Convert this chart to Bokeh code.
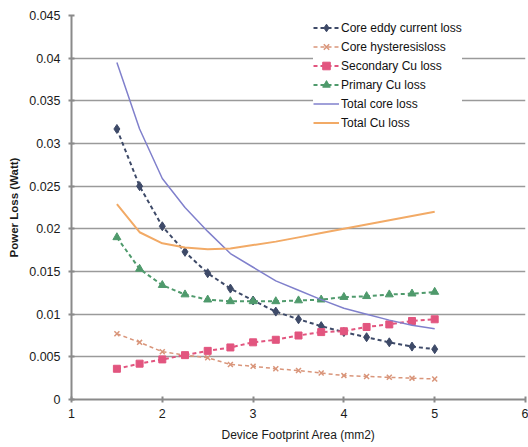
from bokeh.plotting import figure
from bokeh.models import FixedTicker, Legend, LegendItem
from bokeh.embed import file_html
from bokeh.resources import INLINE

area = [1.5, 1.75, 2.0, 2.25, 2.5, 2.75, 3.0, 3.25, 3.5, 3.75, 4.0, 4.25, 4.5, 4.75, 5.0]
core_eddy = [0.0317, 0.0250, 0.0203, 0.0173, 0.0148, 0.0130, 0.0116, 0.0103, 0.0094, 0.0086,
             0.0079, 0.0073, 0.0067, 0.0062, 0.0059]
core_hyst = [0.0077, 0.0067, 0.0056, 0.0052, 0.0049, 0.0041, 0.0039, 0.0036, 0.0034, 0.0031,
             0.0028, 0.0027, 0.0026, 0.0025, 0.0024]
secondary_cu = [0.0036, 0.0042, 0.0047, 0.0052, 0.0057, 0.0061, 0.0067, 0.0070, 0.0075, 0.0079,
                0.0080, 0.0085, 0.0088, 0.0092, 0.0094]
primary_cu = [0.0190, 0.0153, 0.0134, 0.0123, 0.0117, 0.0115, 0.0115, 0.0115, 0.0116, 0.0117,
              0.0120, 0.0121, 0.0123, 0.0124, 0.0126]
total_core = [0.0395, 0.0317, 0.0259, 0.0225, 0.0197, 0.0171, 0.0155, 0.0139, 0.0128, 0.0117,
              0.0107, 0.0100, 0.0093, 0.0087, 0.0083]
total_cu = [0.0229, 0.0196, 0.0183, 0.0178, 0.0176, 0.0177, 0.0181, 0.0185, 0.0190, 0.0195,
            0.0200, 0.0205, 0.0210, 0.0215, 0.0220]

x_ticks = [1, 2, 3, 4, 5, 6]
y_ticks = [0, 0.005, 0.01, 0.015, 0.02, 0.025, 0.03, 0.035, 0.04, 0.045]
y_tick_labels = ["0", "0.005", "0.01", "0.015", "0.02", "0.025", "0.03", "0.035", "0.04", "0.045"]

FONT = "Liberation Sans"

p = figure(width=528, height=447, output_backend="svg", toolbar_location=None,
           x_range=(1, 6), y_range=(0, 0.045),
           min_border_left=71, min_border_right=3, min_border_top=15, min_border_bottom=48)
p.outline_line_color = None
p.background_fill_color = "white"
p.border_fill_color = "white"

p.xgrid.grid_line_color = None
p.ygrid.grid_line_color = "#9a9a9a"
p.ygrid.grid_line_width = 1.5
p.ygrid.ticker = FixedTicker(ticks=y_ticks)

p.xaxis.ticker = FixedTicker(ticks=x_ticks)
p.yaxis.ticker = FixedTicker(ticks=y_ticks)
p.yaxis.major_label_overrides = {t: l for t, l in zip(y_ticks, y_tick_labels)}

for ax in (p.xaxis[0], p.yaxis[0]):
    ax.axis_line_color = "#8a8a8a"
    ax.axis_line_width = 2
    ax.major_tick_line_color = "#8a8a8a"
    ax.major_tick_line_width = 2
    ax.major_tick_in = 3
    ax.major_tick_out = 3
    ax.minor_tick_line_color = None
    ax.major_label_text_font = FONT
    ax.major_label_text_font_size = "12.5px"
    ax.major_label_text_color = "#1a1a1a"
    ax.axis_label_text_font = FONT
    ax.axis_label_text_color = "#1a1a1a"

p.xaxis.axis_label = "Device Footprint Area (mm2)"
p.xaxis.axis_label_text_font_style = "normal"
p.xaxis.axis_label_text_font_size = "12px"
p.xaxis.major_label_standoff = 6
p.xaxis.axis_label_standoff = 7
p.yaxis.axis_label = "Power Loss (Watt)"
p.yaxis.axis_label_text_font_style = "bold"
p.yaxis.axis_label_text_font_size = "11.5px"
p.yaxis.major_label_standoff = 8
p.yaxis.axis_label_standoff = 6

c_eddy = "#3e4a68"
c_hyst = "#d9957a"
c_sec = "#e2557f"
c_pri = "#4f9a6c"
c_tcore = "#8080cc"
c_tcu = "#f2aa66"

r1 = p.line(area, core_eddy, line_color=c_eddy, line_width=2, line_dash="4 3")
r1m = p.scatter(area, core_eddy, marker="diamond", size=9, fill_color=c_eddy, line_color=c_eddy)
r2 = p.line(area, core_hyst, line_color=c_hyst, line_width=1.5, line_dash="4 3")
r2m = p.scatter(area, core_hyst, marker="x", size=7, line_color=c_hyst, line_width=1.5)
r3 = p.line(area, secondary_cu, line_color=c_sec, line_width=2, line_dash="4 3")
r3m = p.scatter(area, secondary_cu, marker="square", size=7, fill_color=c_sec, line_color=c_sec)
r4 = p.line(area, primary_cu, line_color=c_pri, line_width=2, line_dash="4 3")
r4m = p.scatter(area, primary_cu, marker="triangle", size=8, fill_color=c_pri, line_color=c_pri)
r5 = p.line(area, total_core, line_color=c_tcore, line_width=1.5)
r6 = p.line(area, total_cu, line_color=c_tcu, line_width=2)

legend = Legend(items=[
    LegendItem(label="Core eddy current loss", renderers=[r1, r1m]),
    LegendItem(label="Core hysteresisloss", renderers=[r2, r2m]),
    LegendItem(label="Secondary Cu loss", renderers=[r3, r3m]),
    LegendItem(label="Primary Cu loss", renderers=[r4, r4m]),
    LegendItem(label="Total core loss", renderers=[r5]),
    LegendItem(label="Total Cu loss", renderers=[r6]),
], location=(242, 267))
legend.label_text_font = FONT
legend.label_text_font_size = "12px"
legend.label_text_color = "#111111"
legend.label_height = 19
legend.glyph_height = 19
legend.glyph_width = 26
legend.label_standoff = 2
legend.spacing = 0
legend.padding = 4
legend.margin = 0
legend.border_line_color = None
legend.background_fill_color = "white"
legend.background_fill_alpha = 1.0
p.add_layout(legend, "center")

open("out.html", "w").write(file_html(p, INLINE))
